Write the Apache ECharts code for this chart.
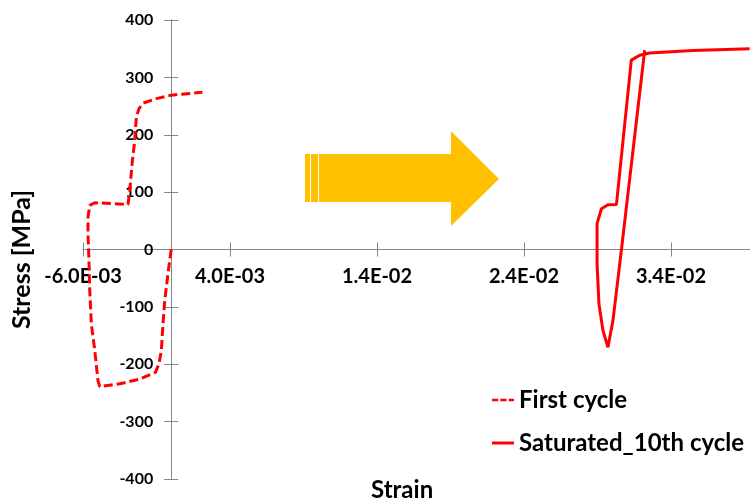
<!DOCTYPE html>
<html>
<head>
<meta charset="utf-8">
<script src="https://cdn.jsdelivr.net/npm/echarts@6/dist/echarts.min.js"></script>
<style>
  html, body { margin: 0; padding: 0; background: #ffffff; }
  #chart { width: 750px; height: 503px; }
</style>
</head>
<body>
<div id="chart"></div>
<script>
// First loading cycle (dashed curve): strain [-], stress [MPa]
const firstStrain = [0.0000, -0.00022, -0.00044, -0.00056, -0.00067, -0.00083, -0.00107,
  -0.00214, -0.0035, -0.00486, -0.00498, -0.0052, -0.00543, -0.00554, -0.00561,
  -0.00566, -0.00566, -0.00554, -0.0052, -0.00294,
  -0.00282, -0.00264, -0.00248, -0.00237, -0.00219, -0.00192, -0.00101, 0.00001, 0.00212];
const firstStress = [0, -42, -89, -130, -176, -199, -214,
  -226, -234, -239, -229, -176, -130, -72, -7.5,
  27, 56, 77, 81.5, 78.5,
  103, 155, 190, 231, 245.5, 255, 263, 269, 274];

// Saturated cycle (10th cycle, solid curve)
const satStrain = [0.03221, 0.03063, 0.03005, 0.02971, 0.02937, 0.0291, 0.02897, 0.02897,
  0.02927, 0.02971, 0.03029, 0.0313, 0.03187, 0.03255, 0.0355, 0.03935];
const satStress = [347.3, 0, -124, -170.5, -141, -95, -25, 45,
  71, 78, 78.5, 330, 338.5, 342.5, 347, 350];

// Axis ranges and tick spacing
const strainAxis = { min: -0.006, max: 0.044, step: 0.01 };
const stressAxis = { min: -400, max: 400, step: 100 };

const seriesNames = ['First cycle', 'Saturated_10th cycle'];

const FONT = 'Lato, "Open Sans", sans-serif';
const AXIS_GREY = '#868686';

// Plot area (pixels inside the 750x503 canvas)
const GRID = { left: 83, right: -68, top: 20, bottom: 24 };
const W = 750, H = 503;
const plotW = W - GRID.left - GRID.right;
const plotH = H - GRID.top - GRID.bottom;
// Pixel position of the zero lines, so the axes can cross at the origin
const zeroX = GRID.left + plotW * (0 - strainAxis.min) / (strainAxis.max - strainAxis.min);
const zeroY = GRID.top + plotH * (stressAxis.max - 0) / (stressAxis.max - stressAxis.min);

function zip(xs, ys) {
  return xs.map((x, i) => [x, ys[i]]);
}

// Excel-style scientific label, e.g. -6.0E-03
function sciLabel(v) {
  if (Math.abs(v) < 1e-12) return '0.0E+00';
  const s = v.toExponential(1).toUpperCase();
  const m = s.match(/^(-?\d\.\d)E([+-])(\d+)$/);
  if (!m) return s;
  return m[1] + 'E' + m[2] + m[3].padStart(2, '0');
}

const chart = echarts.init(document.getElementById('chart'), null, { renderer: 'canvas' });

const xBase = {
  type: 'value',
  min: strainAxis.min,
  max: strainAxis.max,
  interval: strainAxis.step,
  splitLine: { show: false },
  axisLine: { onZero: false, lineStyle: { color: AXIS_GREY, width: 1 } },
  axisTick: { length: 7, lineStyle: { color: AXIS_GREY, width: 1 } }
};
const yBase = {
  type: 'value',
  min: stressAxis.min,
  max: stressAxis.max,
  interval: stressAxis.step,
  splitLine: { show: false },
  axisLine: { onZero: false, lineStyle: { color: AXIS_GREY, width: 1 } },
  axisTick: { length: 7, lineStyle: { color: AXIS_GREY, width: 1 } }
};

// Three short dashes for the dashed legend sample
const dashIcon = 'path://M0,0h7v3h-7z M9.5,0h7v3h-7z M19,0h6v3h-6z';

chart.setOption({
  animation: false,
  backgroundColor: '#ffffff',
  grid: Object.assign({ containLabel: false, outerBoundsMode: 'none' }, GRID),
  title: {
    text: 'Strain',
    left: 371,
    top: 478,
    padding: 0,
    textStyle: { fontFamily: FONT, fontSize: 24, fontWeight: 'bold', color: '#000' }
  },
  legend: {
    data: [
      { name: seriesNames[0], icon: dashIcon },
      { name: seriesNames[1], icon: 'rect' }
    ],
    orient: 'vertical',
    left: 492,
    top: 388,
    padding: 0,
    itemWidth: 22,
    itemHeight: 3,
    itemGap: 19,
    textStyle: { fontFamily: FONT, fontSize: 24, fontWeight: 'bold', color: '#000' }
  },
  xAxis: [
    Object.assign({}, xBase, {
      position: 'bottom',
      offset: -(H - GRID.bottom - zeroY),
      axisLabel: {
        formatter: sciLabel,
        fontFamily: FONT, fontSize: 20, fontWeight: 'bold', color: '#000', margin: 17
      }
    }),
    Object.assign({}, xBase, { position: 'top', offset: -(zeroY - GRID.top), axisLabel: { show: false } })
  ],
  yAxis: [
    Object.assign({}, yBase, {
      position: 'left',
      offset: -(zeroX - GRID.left),
      name: 'Stress [MPa]',
      nameLocation: 'middle',
      nameGap: 137,
      nameTextStyle: { fontFamily: FONT, fontSize: 25, fontWeight: 'bold', color: '#000', padding: [0, 20, 0, 0] },
      axisLabel: { fontFamily: FONT, fontSize: 16, fontWeight: 'bold', color: '#000', margin: 18 }
    }),
    Object.assign({}, yBase, { position: 'right', offset: -(W - GRID.right - zeroX), axisLabel: { show: false } })
  ],
  graphic: [
    {
      type: 'polygon',
      z: 5,
      shape: { points: [[305, 154], [451, 154], [451, 131], [499, 179], [451, 226], [451, 202], [305, 202]] },
      style: { fill: '#FFC000' }
    },
    { type: 'rect', z: 6, shape: { x: 310, y: 154, width: 1, height: 48 }, style: { fill: '#ffffff' } },
    { type: 'rect', z: 6, shape: { x: 318, y: 154, width: 1, height: 48 }, style: { fill: '#ffffff' } }
  ],
  series: [
    {
      name: seriesNames[0],
      type: 'line',
      xAxisIndex: 0,
      yAxisIndex: 0,
      data: zip(firstStrain, firstStress),
      symbol: 'none',
      color: '#FF0000',
      lineStyle: { color: '#FF0000', width: 3, type: [9, 4] }
    },
    {
      name: seriesNames[1],
      type: 'line',
      xAxisIndex: 0,
      yAxisIndex: 0,
      data: zip(satStrain, satStress),
      symbol: 'none',
      color: '#FF0000',
      lineStyle: { color: '#FF0000', width: 3 }
    }
  ]
});
</script>
</body>
</html>
